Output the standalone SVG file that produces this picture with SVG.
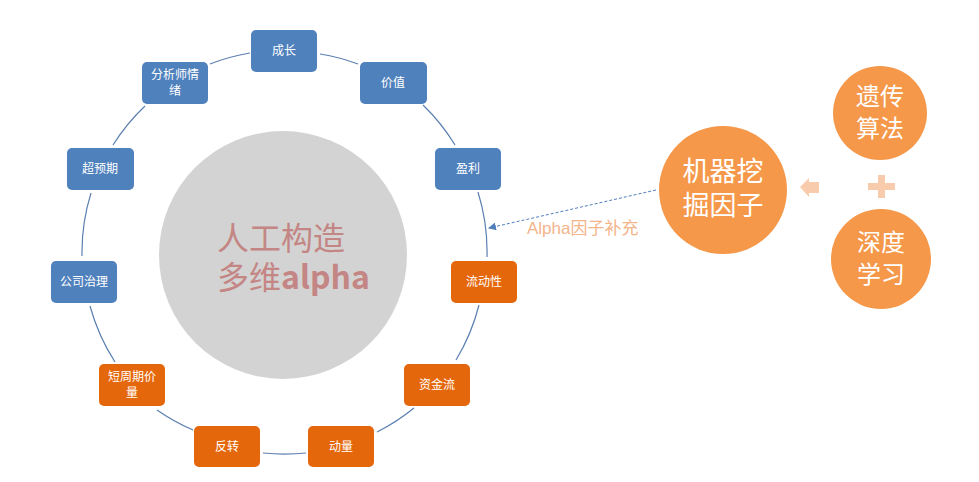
<svg xmlns="http://www.w3.org/2000/svg" width="979" height="482" viewBox="0 0 979 482">
<style>
.b{fill:#4f81bd}.o{fill:#e5670b}
.t{font-family:"Noto Sans CJK SC","Liberation Sans",sans-serif;font-size:12px;fill:#fff;text-anchor:middle}
.c{fill:#f5984a}
.ct{font-family:"Noto Sans CJK SC","Liberation Sans",sans-serif;fill:#fff;text-anchor:middle}
.arc{fill:none;stroke:#5b7fb0;stroke-width:1.2}
</style>
<defs><marker id="ah" markerWidth="8" markerHeight="8" refX="7" refY="4" orient="auto" markerUnits="userSpaceOnUse"><path d="M0,0L8,4L0,8z" fill="#4f7ebd"/></marker></defs>
<rect width="979" height="482" fill="#fff"/>
<g id="center"><circle cx="283" cy="255" r="124" fill="#d3d3d3"/>
<text x="217" y="250" font-family="Noto Sans CJK SC,sans-serif" font-size="32" fill="#c48684">人工构造</text>
<text x="217" y="289" font-family="Noto Sans CJK SC,sans-serif" font-size="32" fill="#c48684">多维<tspan font-weight="bold">alpha</tspan></text></g>
<g id="connectors">
<path class="arc" d="M320,54A201,201 0 0 1 358,64"/>
<path class="arc" d="M423,105A201,201 0 0 1 455,145"/>
<path class="arc" d="M478,192A201,201 0 0 1 487,257"/>
<path class="arc" d="M479,305A201,201 0 0 1 456,360"/>
<path class="arc" d="M414,408A201,201 0 0 1 377,432"/>
<path class="arc" d="M306,453A201,201 0 0 1 263,453"/>
<path class="arc" d="M193,430A201,201 0 0 1 157,410"/>
<path class="arc" d="M115,362A201,201 0 0 1 90,306"/>
<path class="arc" d="M82,256A201,201 0 0 1 91,193"/>
<path class="arc" d="M113,145A201,201 0 0 1 145,106"/>
<path class="arc" d="M210,64A201,201 0 0 1 250,53"/>
<path d="M656,190L489,228" stroke="#4f7ebd" stroke-width="1" stroke-dasharray="3,2" fill="none" marker-end="url(#ah)"/>
<text x="527" y="234" font-family="Liberation Sans,Noto Sans CJK SC,sans-serif" font-size="17" fill="#f4b48a">Alpha因子补充</text>
<path d="M800,187L809,178V182H819V193H809V197Z" fill="#f8cbad"/>
<path d="M878,175H885V183H895V190H885V198H878V190H868V183H878Z" fill="#f8cbad"/>
</g>
<g id="n1"><rect class="b" x="251" y="30" width="66" height="42" rx="5"/><text class="t" x="284" y="55">成长</text></g>
<g id="n2"><rect class="b" x="360" y="62" width="67" height="42" rx="5"/><text class="t" x="393" y="87">价值</text></g>
<g id="n3"><rect class="b" x="435" y="148" width="66" height="42" rx="5"/><text class="t" x="468" y="173">盈利</text></g>
<g id="n4"><rect class="o" x="451" y="261" width="66" height="42" rx="5"/><text class="t" x="484" y="286">流动性</text></g>
<g id="n5"><rect class="o" x="404" y="364" width="66" height="42" rx="5"/><text class="t" x="437" y="389">资金流</text></g>
<g id="n6"><rect class="o" x="308" y="426" width="66" height="41" rx="5"/><text class="t" x="341" y="451">动量</text></g>
<g id="n7"><rect class="o" x="194" y="426" width="66" height="41" rx="5"/><text class="t" x="227" y="451">反转</text></g>
<g id="n8"><rect class="o" x="99" y="364" width="66" height="42" rx="5"/><text class="t" x="132" y="381">短周期价</text><text class="t" x="132" y="397">量</text></g>
<g id="n9"><rect class="b" x="51" y="261" width="66" height="42" rx="5"/><text class="t" x="84" y="286">公司治理</text></g>
<g id="n10"><rect class="b" x="67" y="148" width="67" height="42" rx="5"/><text class="t" x="100" y="173">超预期</text></g>
<g id="n11"><rect class="b" x="142" y="62" width="66" height="42" rx="5"/><text class="t" x="175" y="79">分析师情</text><text class="t" x="175" y="95">绪</text></g>
<g id="ml"><circle class="c" cx="723" cy="190" r="64"/><text class="ct" x="723" y="181" font-size="27">机器挖</text><text class="ct" x="723" y="215" font-size="27">掘因子</text></g>
<g id="ga"><circle class="c" cx="880" cy="113" r="47"/><text class="ct" x="880" y="105" font-size="24">遗传</text><text class="ct" x="880" y="137" font-size="24">算法</text></g>
<g id="dl"><circle class="c" cx="881" cy="259" r="50"/><text class="ct" x="881" y="251" font-size="24">深度</text><text class="ct" x="881" y="283" font-size="24">学习</text></g>
</svg>
